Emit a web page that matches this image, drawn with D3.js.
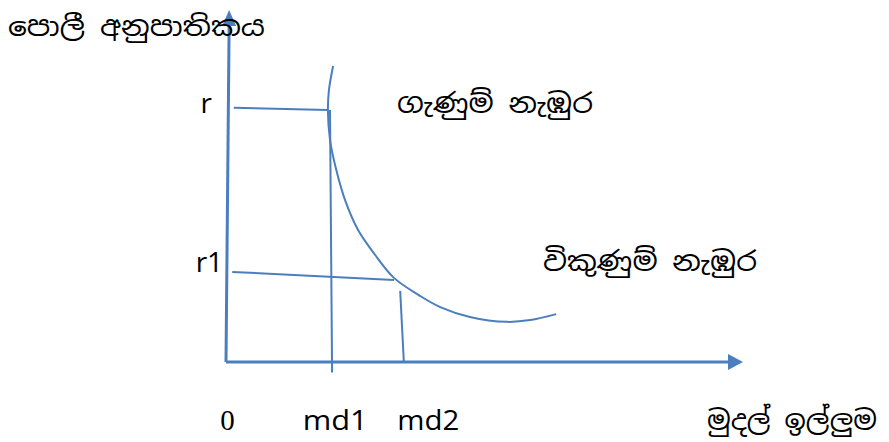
<!DOCTYPE html>
<html>
<head>
<meta charset="utf-8">
<script src="https://cdn.jsdelivr.net/npm/d3@7"></script>
<style>
  html, body { margin: 0; padding: 0; background: #ffffff; }
  svg { display: block; }
</style>
</head>
<body>
<div id="chart"></div>
<script>
// ---- data (chart units: both axes 0..100) ----
const curveX = [20.6, 19.8, 19.6, 20.0, 21.2, 22.9, 25.4, 28.7, 32.3, 37.3, 41.2, 46.9, 54.0, 58.5, 63.5];
const curveY = [84.1, 77.3, 71.6, 63.1, 54.6, 46.0, 37.5, 30.4, 23.9, 18.8, 15.6, 12.8, 11.4, 11.9, 13.6];

const rateLevels = [71.6, 25.0];           // r, r1
const rateLabels = ["r", "r1"];
const demandLevels = [20.0, 34.2];         // md1, md2
const xTickLabels = ["0", "md1", "md2"];
const xTickValues = [0.3, 21.0, 38.9];     // label centres

const curveLabels = ["ගැණුම් නැඹුර", "විකුණුම් නැඹුර"];
const yAxisTitle = "පොලී අනුපාතිකය";
const xAxisTitle = "මුදල් ඉල්ලුම";

// ---- layout ----
const W = 889, H = 442;
const x = d3.scaleLinear().domain([0, 100]).range([226, 746]);
const y = d3.scaleLinear().domain([0, 100]).range([362, 10]);

const blue = "#4A7EBF";
const sinhalaFont = "'Iskoola Pota', 'Noto Sans Sinhala', 'Noto Serif Sinhala', 'Noto Sans', sans-serif";
const latinFont = "'Open Sans', 'Liberation Sans', sans-serif";

const svg = d3.select("#chart").append("svg")
  .attr("width", W).attr("height", H);

const line = d3.line().x(d => x(d[0])).y(d => y(d[1]));

// axes
const yAxisPts = [[0, 0], [0.6, 95.5]];
const xAxisPts = [[0, 0], [97.3, 0]];
svg.append("path").attr("d", line(yAxisPts))
  .attr("stroke", blue).attr("stroke-width", 3).attr("fill", "none");
svg.append("path").attr("d", line(xAxisPts))
  .attr("stroke", blue).attr("stroke-width", 3).attr("fill", "none");

// arrowheads
const yTipX = x(0.6), yTipY = y(100);
svg.append("path")
  .attr("d", `M${yTipX},${yTipY} L${yTipX - 7},${yTipY + 16} L${yTipX + 7},${yTipY + 16} Z`)
  .attr("fill", blue);
const xTipX = x(100) - 3, xTipY = y(0);
svg.append("path")
  .attr("d", `M${xTipX},${xTipY} L${xTipX - 15},${xTipY - 8} L${xTipX - 15},${xTipY + 8} Z`)
  .attr("fill", blue);

// guide lines
const guides = [
  [[1.5, 72.2], [19.6, rateLevels[0]]],
  [[1.2, 25.6], [32.3, 23.3]],
  [[demandLevels[0], rateLevels[0]], [20.4, -3.0]],
  [[33.5, 20.2], [demandLevels[1], 0]]
];
guides.forEach(g => {
  svg.append("path").attr("d", line(g))
    .attr("stroke", blue).attr("stroke-width", 2).attr("fill", "none");
});

// demand curve
const curvePts = curveX.map((v, i) => [v, curveY[i]]);
svg.append("path")
  .attr("d", d3.line().x(d => x(d[0])).y(d => y(d[1])).curve(d3.curveCatmullRom.alpha(0.5))(curvePts))
  .attr("stroke", blue).attr("stroke-width", 2).attr("fill", "none");

// rate labels
const rateLabelX = [-3.8, -3.2];
const rateLabelY = [113, 272];
rateLabels.forEach((t, i) => {
  svg.append("text")
    .attr("x", x(rateLabelX[i]))
    .attr("y", rateLabelY[i])
    .attr("text-anchor", "middle")
    .attr("font-family", latinFont)
    .attr("font-size", 28)
    .attr("fill", "#000")
    .text(t);
});

// x tick labels
const tickLen = [null, 65, 62];
xTickLabels.forEach((t, i) => {
  const isZero = t === "0";
  const el = svg.append("text")
    .attr("x", x(xTickValues[i]))
    .attr("y", 430)
    .attr("text-anchor", "middle")
    .attr("font-family", isZero ? "'Liberation Serif', 'DejaVu Serif', serif" : latinFont)
    .attr("font-size", isZero ? 29 : 28)
    .attr("fill", "#000")
    .text(t);
  if (tickLen[i]) el.attr("textLength", tickLen[i]).attr("lengthAdjust", "spacingAndGlyphs");
});

// Sinhala labels
function sText(str, px, py, len) {
  svg.append("text")
    .attr("x", px).attr("y", py)
    .attr("font-family", sinhalaFont)
    .attr("font-size", 27)
    .attr("fill", "#000")
    .attr("textLength", len)
    .attr("lengthAdjust", "spacingAndGlyphs")
    .text(str);
}
sText(yAxisTitle, 8, 36, 257);
sText(curveLabels[0], 397, 113, 196);
sText(curveLabels[1], 543, 271, 214);
sText(xAxisTitle, 707, 430, 170);
</script>
</body>
</html>
